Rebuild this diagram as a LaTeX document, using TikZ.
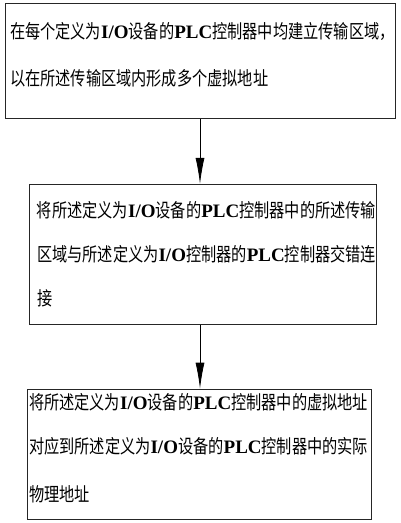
\documentclass[tikz,border=0pt]{standalone}
\usepackage{fontspec}
\setmainfont{Liberation Serif}
\newfontfamily\cjk[FakeStretch=0.8]{Noto Sans CJK SC}
\newcommand{\en}[1]{{\rmfamily\bfseries #1}}
\usetikzlibrary{arrows.meta}
\usetikzlibrary{positioning}

\begin{document}
\begin{tikzpicture}[->,>={Latex[length=26pt,width=9pt]},thick,
                    stage box/.style={draw=black!85,rectangle,align=left,anchor=north,
                      font=\cjk\fontsize{19}{44}\selectfont}]

  \useasboundingbox (0,0) rectangle (400pt,-523pt);

  \node[stage box,minimum width=390pt,minimum height=115pt,text width=380pt,inner xsep=5pt,
        text depth=61pt]
    (1) at (200pt,-3pt)
    {在每个定义为\en{I/O}设备的\en{PLC}控制器中均建立传输区域，\\[3pt]以在所述传输区域内形成多个虚拟地址};
  \node[stage box,minimum width=347pt,minimum height=140pt,text width=331pt,inner xsep=8pt]
    (2) [below=65pt of 1,xshift=2.5pt]
    {将所述定义为\en{I/O}设备的\en{PLC}控制器中的所述传输\\区域与所述定义为\en{I/O}控制器的\en{PLC}控制器交错连\\接};
  \node[stage box,minimum width=344pt,minimum height=130pt,text width=340pt,inner xsep=2pt,
        inner ysep=3pt,text height=14pt,text depth=104pt]
    (3) [below=64pt of 2,xshift=-3.5pt]
    {将所述定义为\en{I/O}设备的\en{PLC}控制器中的虚拟地址\\对应到所述定义为\en{I/O}设备的\en{PLC}控制器中的实际\\[4pt]物理地址};

  \draw (1.south) -- (1.south |- 2.north);
  \draw (1.south |- 2.south) -- (1.south |- 3.north);
\end{tikzpicture}
\end{document}
